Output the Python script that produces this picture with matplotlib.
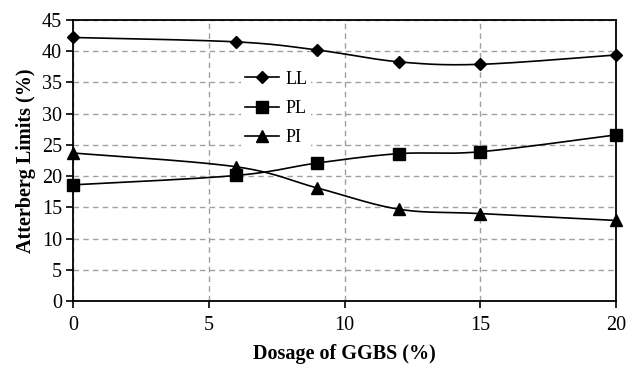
import numpy as np
import matplotlib
matplotlib.use("Agg")
import matplotlib.pyplot as plt
from matplotlib.lines import Line2D

# GGBS dosage (%) and Atterberg limits (%)
dosage = [0, 6, 9, 12, 15, 20]
liquid_limit = [42.2, 41.5, 40.2, 38.3, 37.9, 39.4]
plastic_limit = [18.6, 20.1, 22.1, 23.6, 23.9, 26.6]
plasticity_index = [23.7, 21.5, 18.1, 14.7, 14.0, 12.9]

series = [
    ("LL", liquid_limit, "D", 6.5),
    ("PL", plastic_limit, "s", 8),
    ("PI", plasticity_index, "^", 8),
]

plt.rcParams["font.family"] = ["Liberation Serif", "DejaVu Serif"]


def smooth(x, y, steps=30):
    """Spreadsheet-style smoothed line through the points (cubic Bezier)."""
    p = np.column_stack([x, y]).astype(float)
    n = len(p)
    out = [p[0]]
    t = np.linspace(0, 1, steps)[1:, None]
    for i in range(n - 1):
        prev = p[i - 1] if i > 0 else p[i]
        nxt = p[i + 2] if i + 2 < n else p[i + 1]
        c1 = p[i] + (p[i + 1] - prev) / 6
        c2 = p[i + 1] - (nxt - p[i]) / 6
        seg = ((1 - t) ** 3 * p[i] + 3 * (1 - t) ** 2 * t * c1
               + 3 * (1 - t) * t ** 2 * c2 + t ** 3 * p[i + 1])
        out.extend(seg)
    out = np.array(out)
    return out[:, 0], out[:, 1]


fig = plt.figure(figsize=(6.27, 3.66), dpi=100)
ax = fig.add_axes([73 / 627, 1 - 301 / 366, (616 - 73) / 627, (301 - 20) / 366])

handles = []
for name, vals, marker, ms in series:
    sx, sy = smooth(dosage, vals)
    ax.plot(sx, sy, color="black", lw=1.2, zorder=3, clip_on=False)
    ax.plot(dosage, vals, ls="none", marker=marker, ms=ms, color="black",
            zorder=4, clip_on=False)
    handles.append(Line2D([], [], color="black", lw=1.2, marker=marker, ms=ms))

ax.set_xlim(0, 20)
ax.set_ylim(0, 45)
ax.set_xticks(range(0, 21, 5))
ax.set_yticks(range(0, 46, 5))
ax.grid(True, color="#a0a0a0", ls=(0, (4, 3)), lw=1.0)
ax.set_axisbelow(True)

for s in ax.spines.values():
    s.set_linewidth(1.3)
    s.set_color("black")

ax.tick_params(axis="both", direction="out", length=5, width=1.2,
               labelsize=14.5, colors="black")
ax.tick_params(axis="x", pad=6)
ax.tick_params(axis="y", pad=3)

ax.set_xlabel("Dosage of GGBS (%)", fontsize=14.5, fontweight="bold", labelpad=6)
ax.set_ylabel("Atterberg Limits (%)", fontsize=14.5, fontweight="bold", labelpad=4)

leg = ax.legend(handles, [s[0] for s in series], loc="upper left",
                bbox_to_anchor=(241 / 627, 1 - 67 / 366),
                bbox_transform=fig.transFigure, frameon=True, fancybox=False,
                edgecolor="none", facecolor="white", framealpha=1,
                fontsize=13, handlelength=1.9, labelspacing=0.68,
                handletextpad=0.35, borderpad=0.2, borderaxespad=0)
leg.set_zorder(2.5)

fig.savefig("out.png", dpi=100)
